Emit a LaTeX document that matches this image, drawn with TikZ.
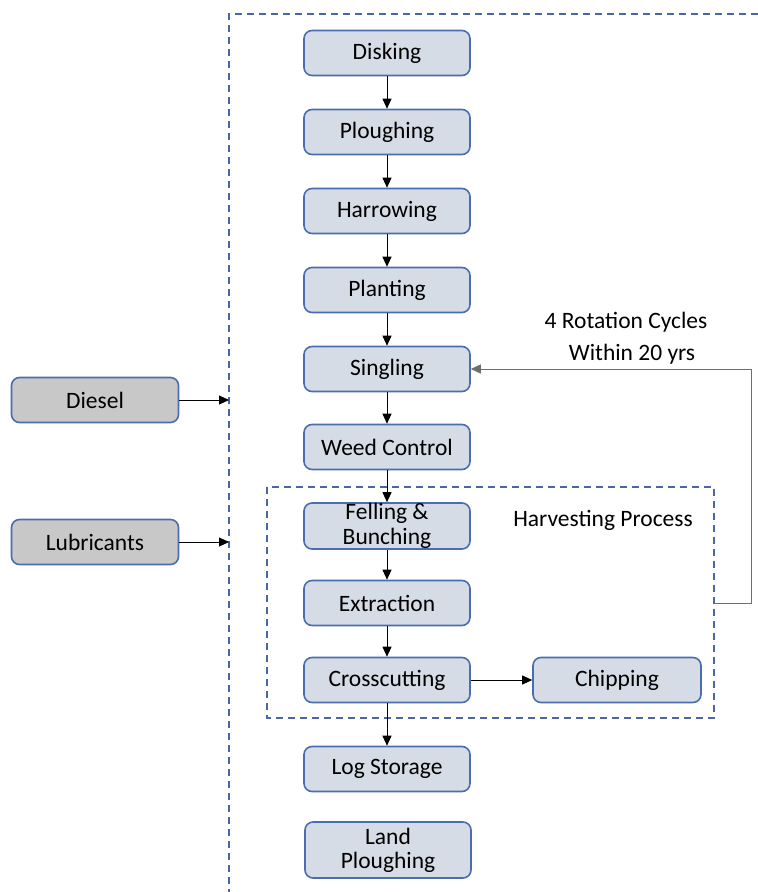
\documentclass[tikz,border=0pt]{standalone}
\usepackage{fontspec}
\setmainfont{Carlito}
\usetikzlibrary{arrows.meta}
\definecolor{boxfill}{HTML}{D6DCE5}
\definecolor{boxline}{HTML}{4A6DB0}
\definecolor{inputfill}{HTML}{C8C8C8}
\definecolor{dashline}{HTML}{4A66A6}
\definecolor{loopline}{HTML}{6E6E6E}
\tikzset{
  stepbox/.style={draw=boxline, line width=1.6pt, fill=boxfill, rounded corners=8pt,
    minimum width=166pt, minimum height=45pt, inner sep=0pt, align=center,
    font=\fontsize{23.5}{25}\selectfont},
  inputbox/.style={stepbox, fill=inputfill},
  flow/.style={-{Triangle[length=10pt,width=9pt]}, line width=0.9pt, black},
  group/.style={draw=dashline, line width=1.6pt, dash pattern=on 7pt off 5pt},
  lbl/.style={font=\fontsize{23.5}{25}\selectfont, inner sep=0pt}
}
\begin{document}
\begin{tikzpicture}[x=1pt, y=-1pt]
\useasboundingbox (0,0) rectangle (758,892);

% process chain
\node[stepbox] (disk)  at (387,53)  {Disking};
\node[stepbox] (plough) at (387,132) {Ploughing};
\node[stepbox] (harrow) at (387,211) {Harrowing};
\node[stepbox] (plant) at (387,290) {Planting};
\node[stepbox] (single) at (387,369) {Singling};
\node[stepbox] (weed)  at (387,447) {Weed Control};
\node[stepbox, minimum height=46pt, text height=0pt, text depth=0pt] (fell) at (387,526) {};
\node[font=\fontsize{23.5}{25}\selectfont, align=center, inner sep=0pt] (felltxt) at (387,526) {Felling \&\\Bunching};
\node[stepbox] (extract) at (387,603) {Extraction};
\node[stepbox] (cross) at (387,680) {Crosscutting};
\node[stepbox, minimum width=168pt] (chip) at (617,680) {Chipping};
\node[stepbox] (logs)  at (387,769) {Log Storage};
\node[stepbox, minimum height=56pt] (land) at (388,850) {Land\\[-1pt]Ploughing};

% inputs
\node[inputbox, minimum width=167pt] (diesel) at (95,400) {Diesel};
\node[inputbox, minimum width=167pt] (lube) at (95,542) {Lubricants};

% system boundary
\coordinate (sysTR) at (758,14);
\coordinate (sysTL) at (229,14);
\coordinate (sysBL) at (229,892);
\draw[group] (sysTR) -- (sysTL) -- (sysBL);

% harvesting group
\draw[group] (267,487) rectangle (714,718);
\node[lbl] (harvlbl) at (603,520) {Harvesting Process};

% flows
\draw[flow] (disk) -- (plough);
\draw[flow] (plough) -- (harrow);
\draw[flow] (harrow) -- (plant);
\draw[flow] (plant) -- (single);
\draw[flow] (single) -- (weed);
\draw[flow] (weed) -- (fell);
\draw[flow] (fell) -- (extract);
\draw[flow] (extract) -- (cross);
\draw[flow] (cross) -- (logs);
\draw[flow] (cross) -- (chip);

\coordinate (dieselIn) at (229,400);
\coordinate (lubeIn) at (229,542);
\draw[flow] (diesel) -- (dieselIn);
\draw[flow] (lube) -- (lubeIn);

% rotation loop
\coordinate (loopA) at (714,603);
\coordinate (loopB) at (751,603);
\coordinate (loopC) at (751,369);
\draw[flow, draw=loopline] (loopA) -- (loopB) -- (loopC) -- (single.east);
\node[lbl] (rot1) at (626,322) {4 Rotation Cycles};
\node[lbl] (rot2) at (632,354) {Within 20 yrs};
\end{tikzpicture}
\end{document}
